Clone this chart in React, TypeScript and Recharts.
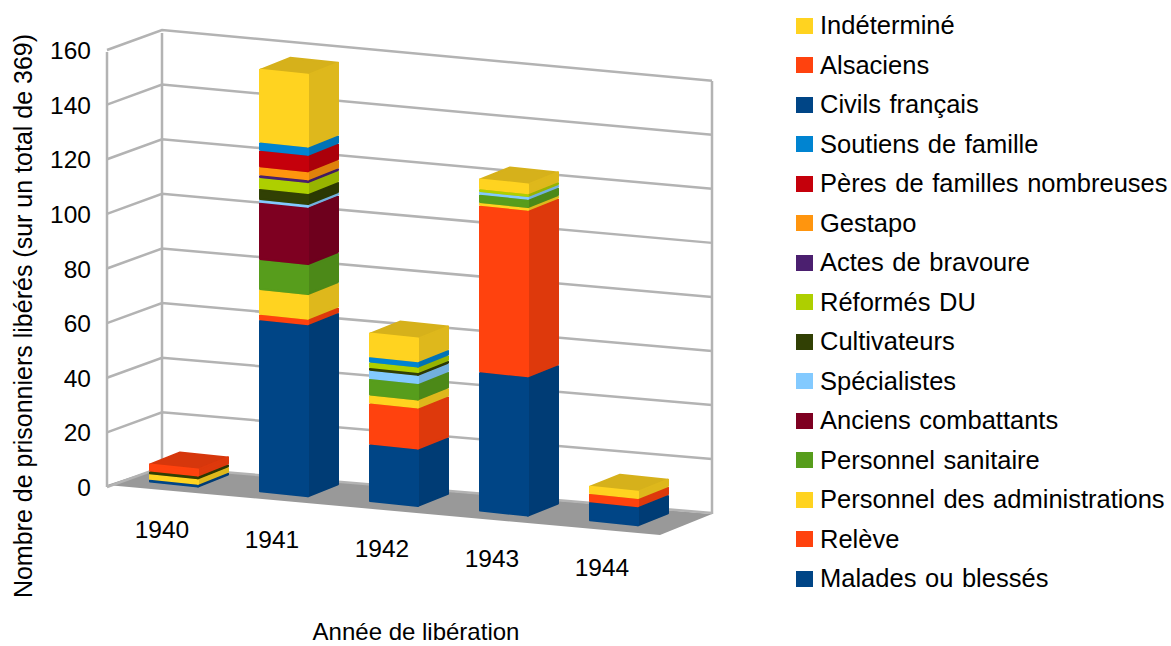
import React from "react";
import { BarChart, Bar, XAxis, YAxis, CartesianGrid, Legend, Label } from "recharts";

const YEARS = ["1940", "1941", "1942", "1943", "1944"];
const Y_TICKS = [0, 20, 40, 60, 80, 100, 120, 140, 160];

const malades = [1, 63, 21, 51, 7];
const releve = [0, 2, 15, 61, 3];
const administrations = [2, 9, 3, 1, 0];
const sanitaire = [0, 11, 6, 3, 0];
const anciens = [0, 21, 0, 0, 0];
const specialistes = [0, 1, 3, 1, 0];
const cultivateurs = [1, 4, 1, 0, 0];
const reformes = [0, 4, 2, 1, 0];
const bravoure = [0, 1, 0, 0, 0];
const gestapo = [0, 3, 0, 0, 0];
const peres = [0, 6, 0, 0, 0];
const soutiens = [0, 3, 2, 0, 0];
const civils = [0, 0, 0, 0, 0];
const alsaciens = [3, 0, 0, 0, 0];
const indetermine = [0, 27, 9, 4, 3];

const SERIES_NAMES = [
  "Malades ou blessés", "Relève", "Personnel des administrations", "Personnel sanitaire",
  "Anciens combattants", "Spécialistes", "Cultivateurs", "Réformés DU", "Actes de bravoure",
  "Gestapo", "Pères de familles nombreuses", "Soutiens de famille", "Civils français",
  "Alsaciens", "Indéterminé",
];
const SERIES_VALUES = [
  malades, releve, administrations, sanitaire, anciens, specialistes, cultivateurs, reformes,
  bravoure, gestapo, peres, soutiens, civils, alsaciens, indetermine,
];
const SERIES_COLORS = [
  "#004586", "#ff420e", "#ffd320", "#579d1c", "#7e0021", "#83caff", "#314004", "#aecf00",
  "#4b1f6f", "#ff950e", "#c5000b", "#0084d1", "#004586", "#ff420e", "#ffd320",
];

const rows = YEARS.map((year, i) => {
  const row: Record<string, number | string> = { year };
  SERIES_NAMES.forEach((n, s) => { row[n] = SERIES_VALUES[s][i]; });
  return row;
});

const FONT = '"Liberation Sans", Arial, sans-serif';
const PLOT_LEFT = 107;
const PLOT_RIGHT = 657;
const PLOT_TOP = 50;
const PLOT_BOTTOM = 487;
const GRID = "#b3b3b3";

const shade = (hex: string, f: number) => {
  const n = parseInt(hex.slice(1), 16);
  const c = (v: number) => Math.round(v * f);
  return `rgb(${c((n >> 16) & 255)},${c((n >> 8) & 255)},${c(n & 255)})`;
};

const FRONT_W = 50, FRONT_SLOPE = 5, DEPTH_X = 30, DEPTH_Y = -12;

const pts = (a: number[][]) => a.map((p) => p.join(",")).join(" ");

function Block(props: any) {
  const { x, y, height, index, fill } = props;
  if (!height || height <= 0) return null;
  const inset = 1;
  const X = x + 12 + inset;
  const Y = y - 4.5 + 9.7 * index + 1;
  const h = Math.max(height - 2, 0.2);
  const w = FRONT_W - 2 * inset, s = FRONT_SLOPE, dx = DEPTH_X, dy = DEPTH_Y;
  const common = { strokeLinejoin: "round" as const, strokeWidth: 2 };
  return (
    <g style={{ filter: "blur(0.5px)" }}>
      <polygon points={pts([[X, Y], [X + w, Y + s], [X + w + dx, Y + s + dy], [X + dx, Y + dy]])}
        fill={shade(fill, 0.84)} stroke={shade(fill, 0.84)} {...common} />
      <polygon points={pts([[X + w, Y + s], [X + w + dx, Y + s + dy], [X + w + dx, Y + s + dy + h], [X + w, Y + s + h]])}
        fill={shade(fill, 0.87)} stroke={shade(fill, 0.87)} {...common} />
      <polygon points={pts([[X, Y], [X + w, Y + s], [X + w, Y + s + h], [X, Y + h]])}
        fill={fill} stroke={fill} {...common} />
    </g>
  );
}

function GridLine(props: any) {
  const { x1, y1 } = props;
  const isFloor = Math.abs(y1 - PLOT_BOTTOM) < 1;
  const backL = PLOT_LEFT + 55;
  const backR = PLOT_RIGHT + 55;
  const v = (PLOT_BOTTOM - y1) / 2.73;
  const line = { fill: "none", stroke: GRID, strokeWidth: 2.5 };
  return (
    <g>
      {isFloor && (
        <>
          <polygon points={pts([[PLOT_LEFT, PLOT_BOTTOM - 2], [backL, PLOT_BOTTOM - 20], [backR, PLOT_BOTTOM + 27], [PLOT_RIGHT + 3, PLOT_BOTTOM + 48]])} fill="#999999" />
          <line x1={PLOT_LEFT} x2={PLOT_LEFT} y1={PLOT_TOP + 2} y2={PLOT_BOTTOM} {...line} />
          <line x1={backL} x2={backL} y1={PLOT_TOP - 17} y2={PLOT_BOTTOM - 20} {...line} />
          <line x1={backR} x2={backR} y1={PLOT_TOP + 31} y2={PLOT_BOTTOM + 27} {...line} />
        </>
      )}
      <polyline points={pts([[x1, y1], [backL, y1 - 20], [backR, y1 + 26 + 0.03 * v]])} {...line} />
    </g>
  );
}

function XTick(props: any) {
  const { x, payload, index } = props;
  const i = payload?.index ?? index ?? 0;
  return (
    <text x={x} y={PLOT_BOTTOM + 51 + i * 9.5} textAnchor="middle" fontSize={24.5} fontFamily={FONT} fill="#000">
      {payload.value}
    </text>
  );
}

function YTick(props: any) {
  const { y, payload } = props;
  return (
    <text x={91} y={y + 9} textAnchor="end" fontSize={24.5} fontFamily={FONT} fill="#000">
      {payload.value}
    </text>
  );
}

function LegendList() {
  const order = SERIES_NAMES.map((_, i) => i).reverse();
  return (
    <div style={{ fontFamily: FONT, fontSize: 25.5, color: "#000", lineHeight: "39.5px", whiteSpace: "nowrap" }}>
      {order.map((i) => (
        <div key={i} style={{ display: "flex", alignItems: "center", height: 39.5 }}>
          <span style={{ width: 17, height: 16, background: SERIES_COLORS[i], marginRight: 7, flex: "none" }} />
          <span style={{ wordSpacing: 1.5 }}>{SERIES_NAMES[i]}</span>
        </div>
      ))}
    </div>
  );
}

export default function App() {
  return (
    <div style={{ position: "absolute", left: 0, top: 0, width: 1171, height: 646, background: "#fff" }}>
      <BarChart
        width={1171}
        height={646}
        data={rows}
        barSize={FRONT_W}
        margin={{ top: PLOT_TOP, left: PLOT_LEFT - 60, right: 1171 - PLOT_RIGHT, bottom: 646 - PLOT_BOTTOM - 60 }}
      >
        <CartesianGrid horizontal={GridLine as any} vertical={false} />
        <XAxis dataKey="year" height={60} axisLine={false} tickLine={false} tick={XTick as any} interval={0}>
          <Label
            content={() => (
              <text x={416} y={640} textAnchor="middle" fontSize={24} fontFamily={FONT} fill="#000">
                Année de libération
              </text>
            )}
          />
        </XAxis>
        <YAxis width={60} domain={[0, 160]} ticks={Y_TICKS} axisLine={false} tickLine={false} tick={YTick as any} interval={0}>
          <Label
            content={() => (
              <text transform="translate(32,316) rotate(-90)" textAnchor="middle" fontSize={25} fontFamily={FONT} fill="#000">
                Nombre de prisonniers libérés (sur un total de 369)
              </text>
            )}
          />
        </YAxis>
        <Legend
          layout="vertical"
          align="center"
          verticalAlign="middle"
          content={LegendList as any}
          wrapperStyle={{ left: 796, top: 6, width: 375, bottom: "auto", right: "auto" }}
        />
        {SERIES_NAMES.map((n, s) => (
          <Bar key={n} dataKey={n} stackId="a" fill={SERIES_COLORS[s]} shape={Block as any} isAnimationActive={false} />
        ))}
      </BarChart>
    </div>
  );
}
